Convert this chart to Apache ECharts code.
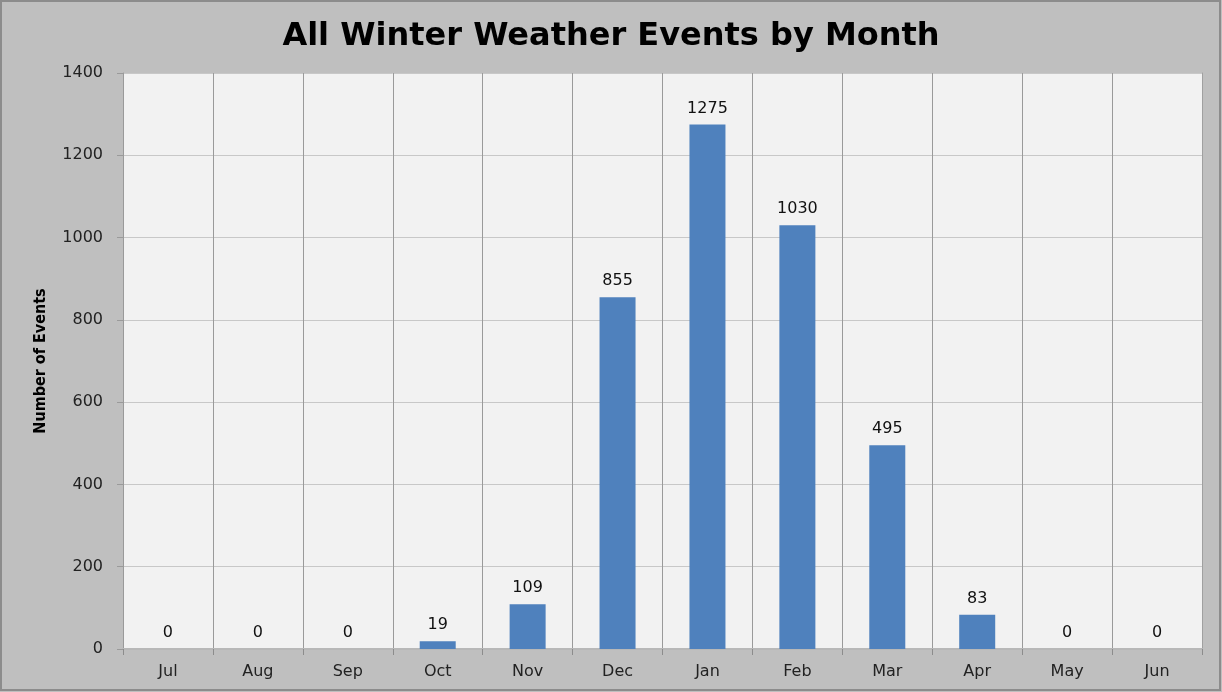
<!DOCTYPE html>
<html><head><meta charset="utf-8">
<script src="https://cdn.jsdelivr.net/npm/echarts@6/dist/echarts.min.js"></script>
<style>html,body{margin:0;padding:0;background:#bfbfbf}#c{width:1222px;height:692px}</style>
</head><body><div id="c"></div>
<script>
const months = ['Jul','Aug','Sep','Oct','Nov','Dec','Jan','Feb','Mar','Apr','May','Jun'];
const events = [0,0,0,19,109,855,1275,1030,495,83,0,0];
const titleText = 'All Winter Weather Events by Month';
const yName = 'Number of Events';

const chart = echarts.init(document.getElementById('c'));
chart.setOption({
  backgroundColor: '#bfbfbf',
  animation: false,
  title: {
    text: titleText, left: 'center', top: 16,
    textStyle: {fontFamily: 'DejaVu Sans', fontWeight: 'bold', fontSize: 32, color: '#000'}
  },
  graphic: [{type:'rect', shape:{x:1,y:1,width:1219,height:689}, style:{fill:'none', stroke:'#8c8c8c', lineWidth:2}}],
  grid: {left: 123, right: 20, top: 73, bottom: 43, backgroundColor: '#f2f2f2', show: true, borderWidth: 0},
  xAxis: {
    type: 'category', data: months,
    axisLine: {lineStyle: {color: '#b8b8b8', width: 2}},
    axisTick: {show: true, alignWithLabel: false, length: 6, lineStyle: {color: '#8c8c8c'}},
    axisLabel: {fontFamily: 'DejaVu Sans', fontSize: 16, color: '#222', margin: 15},
    splitLine: {show: true, lineStyle: {color: '#9a9a9a', width: 1}}
  },
  yAxis: [{
    type: 'value', min: 0, max: 1400, interval: 200,
    name: yName, nameLocation: 'middle', nameGap: 74, nameRotate: 90,
    nameTextStyle: {fontFamily: 'Liberation Sans Narrow, DejaVu Sans Condensed, Liberation Sans', fontWeight: 'bold', fontSize: 16, color: '#000'},
    axisLine: {show: true, lineStyle: {color: '#9a9a9a'}},
    axisTick: {show: true, length: 6, lineStyle: {color: '#9a9a9a'}},
    axisLabel: {fontFamily: 'DejaVu Sans', fontSize: 16, color: '#222', margin: 20, formatter: v => String(v)},
    splitLine: {show: true, lineStyle: {color: '#c8c8c8', width: 1}}
  }, {
    type: 'value', min: 0, max: 1400, interval: 200, position: 'right',
    axisLine: {show: true, lineStyle: {color: '#a0a0a0', width: 1}},
    axisTick: {show: false}, axisLabel: {show: false}, splitLine: {show: false}
  }],
  series: [{
    type: 'bar', data: events, barWidth: 36,
    itemStyle: {color: '#4f81bd'},
    label: {show: true, position: 'top', distance: 8, fontFamily: 'DejaVu Sans', fontSize: 16, color: '#111'}
  }]
});
</script></body></html>
